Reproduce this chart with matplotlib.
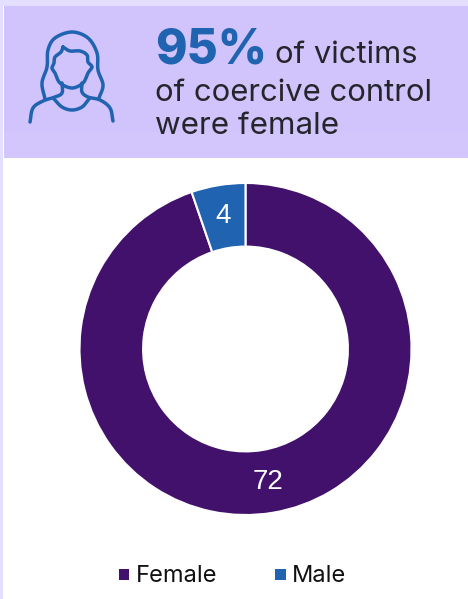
import numpy as np
import matplotlib
matplotlib.use("Agg")
import matplotlib.pyplot as plt
from matplotlib.patches import Rectangle

categories = ["Female", "Male"]
values = [72, 4]
colors = ["#41116B", "#2063B0"]

W, H = 468, 599
plt.rcParams['font.family'] = ['Inter', 'DejaVu Sans']

fig = plt.figure(figsize=(W / 100, H / 100), dpi=100, facecolor="white")

# page layer, in pixels from the top left
bg = fig.add_axes([0, 0, 1, 1])
bg.set_xlim(0, W)
bg.set_ylim(H, 0)
bg.axis("off")
bg.add_patch(Rectangle((0, 0), W, 6, color="#E4DEFF", lw=0))
bg.add_patch(Rectangle((0, 0), 3, H, color="#E4DEFF", lw=0))
bg.add_patch(Rectangle((4, 6), W, 126, color="#D1C3FB", lw=0))
bg.add_patch(Rectangle((4, 132), W, 26, color="#D3C6FD", lw=0))

blue = "#2063B0"


# smooth line through the outline points of the icon
def stroke(pts):
    p = np.array(pts, dtype=float)
    p = np.vstack([2 * p[0] - p[1], p, 2 * p[-1] - p[-2]])
    t = np.linspace(0, 1, 12)[:, None]
    out = []
    for i in range(1, len(p) - 2):
        a, b, c, d = p[i - 1], p[i], p[i + 1], p[i + 2]
        out.append(0.5 * (2 * b + (c - a) * t + (2 * a - 5 * b + 4 * c - d) * t ** 2
                          + (3 * b - a - 3 * c + d) * t ** 3))
    out = np.vstack(out)
    bg.plot(out[:, 0], out[:, 1], color=blue, lw=2.5, solid_capstyle="round")


# hair
stroke([(45, 99), (42, 83), (47, 67), (48, 50), (55, 38), (72, 32), (88, 38),
        (97, 53), (98, 70), (103, 85), (99, 98)])
# face
stroke([(63, 47), (61, 52), (55, 57), (54, 63), (52, 68), (55, 73), (60, 83), (72, 88),
        (83, 83), (88, 73), (92, 67), (88, 62), (87, 55), (80, 51), (70, 51), (63, 47)])
# neck and shoulders
stroke([(62, 83), (62, 93), (55, 97), (43, 101), (33, 108), (30, 122)])
stroke([(82, 83), (82, 92), (88, 97), (100, 100), (110, 108), (113, 121)])
stroke([(54, 99), (62, 107), (72, 110), (82, 107), (89, 99)])

# headline text
bg.text(155, 63, "95%", fontsize=34.5, fontweight="heavy", color=blue, va="baseline")
bg.text(275, 63, "of victims", fontsize=22.3, color="#25262B", va="baseline")
bg.text(155, 101, "of coercive control", fontsize=22.3, color="#25262B", va="baseline")
bg.text(155, 134.5, "were female", fontsize=22.6, color="#25262B", va="baseline")

# donut
cx, cy, r = 245.5, 349, 166
ax = fig.add_axes([(cx - r) / W, 1 - (cy + r) / H, 2 * r / W, 2 * r / H])
wedges, _ = ax.pie(values, colors=colors, startangle=90, counterclock=False,
                   radius=1, wedgeprops=dict(width=0.383, edgecolor="white", linewidth=1.5))
ax.set_xlim(-1, 1)
ax.set_ylim(-1, 1)
for w, v in zip(wedges, values):
    ang = np.deg2rad((w.theta1 + w.theta2) / 2)
    ax.text(0.81 * np.cos(ang), 0.81 * np.sin(ang), str(v), color="white", fontsize=20,
            ha="center", va="center", family="Liberation Sans")

# legend
for x, name, col in zip([124.5, 281], categories, colors):
    bg.add_patch(Rectangle((x - 6, 569), 10.5, 10.5, color=col, lw=0))
    bg.text(x + 11, 581.5, name, fontsize=17, color="#111111", va="baseline")

fig.savefig("out.png", dpi=100)
